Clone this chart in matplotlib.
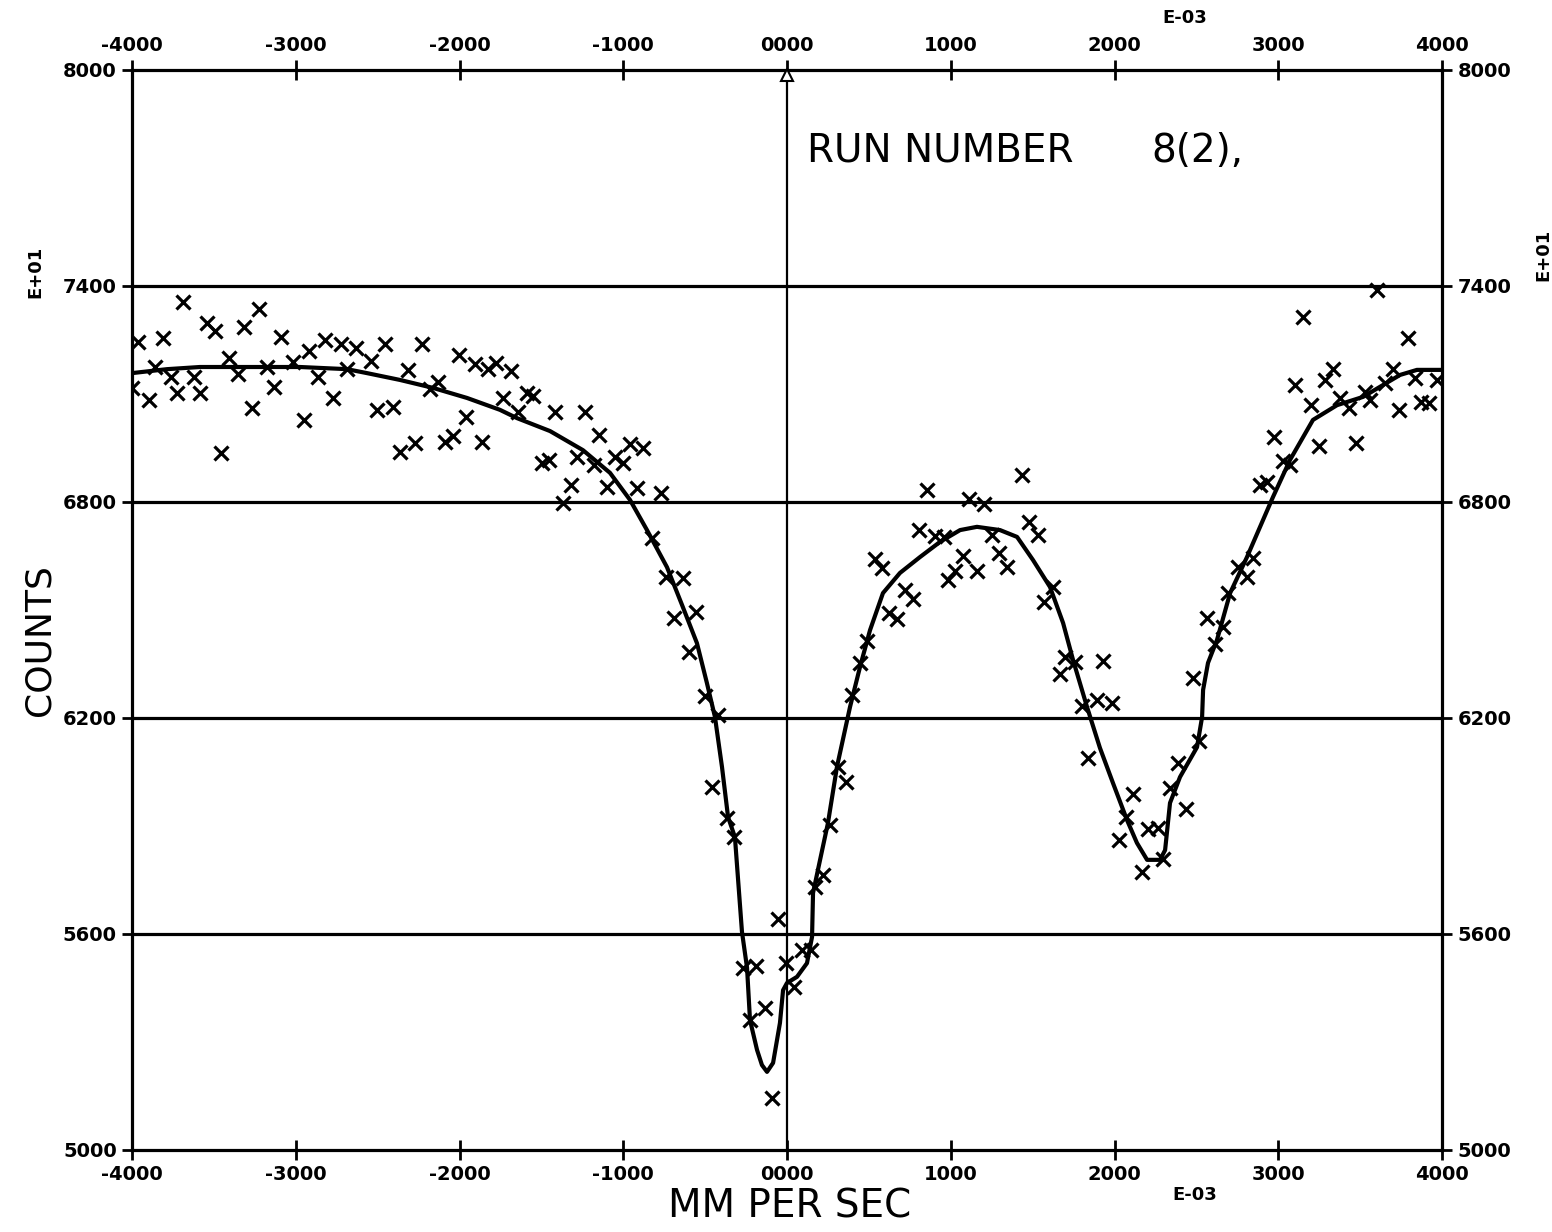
import matplotlib
matplotlib.use("Agg")
import matplotlib.pyplot as plt
import numpy as np

# ---- data (velocity in E-03 mm/s, counts in E+01) ----
vel = [-4000, -3963, -3896, -3860, -3811, -3762, -3725, -3689, -3621, -3585,
       -3542, -3493, -3456, -3408, -3353, -3316, -3267, -3224, -3176, -3133,
       -3090, -3017, -2950, -2919, -2864, -2821, -2773, -2724, -2687, -2632,
       -2540, -2504, -2455, -2406, -2363, -2314, -2272, -2229, -2180, -2131,
       -2089, -2040, -2003, -1960, -1905, -1863, -1826, -1777, -1734, -1685,
       -1643, -1588, -1551, -1496, -1453, -1417, -1368, -1319, -1282, -1234,
       -1179, -1148, -1099, -1050, -1002, -959, -916, -879, -824, -769,
       -739, -690, -635, -598, -556, -501, -458, -421, -366, -324,
       -269, -226, -189, -134, -92, -55, -6, 43, 92, 147,
       171, 220, 263, 311, 360, 397, 446, 489, 538, 580,
       623, 672, 721, 770, 806, 855, 904, 959, 983, 1026,
       1075, 1112, 1161, 1203, 1252, 1295, 1344, 1435, 1478, 1533,
       1570, 1625, 1667, 1698, 1759, 1801, 1838, 1893, 1930, 1985,
       2028, 2070, 2113, 2168, 2205, 2266, 2296, 2339, 2388, 2437,
       2479, 2516, 2565, 2614, 2663, 2693, 2754, 2809, 2846, 2889,
       2931, 2974, 3029, 3072, 3102, 3151, 3200, 3249, 3286, 3335,
       3377, 3432, 3475, 3530, 3560, 3603, 3652, 3701, 3738, 3793,
       3835, 3872, 3921, 3970]
counts = [7117, 7244, 7083, 7175, 7256, 7147, 7103, 7356, 7147, 7103,
          7297, 7275, 6936, 7200, 7156, 7286, 7061, 7336, 7175, 7119,
          7258, 7189, 7028, 7219, 7147, 7250, 7089, 7239, 7169, 7228,
          7192, 7056, 7239, 7064, 6939, 7167, 6964, 7239, 7114, 7133,
          6967, 6983, 7208, 7036, 7183, 6967, 7169, 7186, 7089, 7164,
          7050, 7103, 7094, 6908, 6917, 7050, 6797, 6847, 6925, 7050,
          6903, 6986, 6842, 6925, 6908, 6961, 6839, 6950, 6700, 6825,
          6592, 6478, 6589, 6383, 6494, 6261, 6008, 6208, 5922, 5869,
          5506, 5361, 5511, 5394, 5144, 5642, 5519, 5453, 5556, 5556,
          5731, 5764, 5903, 6064, 6022, 6264, 6353, 6414, 6642, 6617,
          6492, 6475, 6556, 6531, 6722, 6833, 6706, 6703, 6583, 6608,
          6650, 6808, 6608, 6794, 6708, 6658, 6619, 6875, 6744, 6708,
          6522, 6564, 6322, 6369, 6356, 6233, 6089, 6250, 6358, 6242,
          5861, 5925, 5989, 5772, 5892, 5894, 5808, 6006, 6075, 5947,
          6311, 6136, 6478, 6406, 6453, 6547, 6619, 6592, 6644, 6847,
          6856, 6981, 6914, 6903, 7125, 7314, 7069, 6956, 7139, 7169,
          7089, 7061, 6964, 7106, 7083, 7389, 7131, 7169, 7056, 7256,
          7144, 7078, 7075, 7139]

fit_vel = [-4000, -3786, -3585, -3218, -2974, -2687, -2565, -2363, -2162, -1954,
           -1753, -1649, -1447, -1246, -1081, -959, -855, -733, -641, -550,
           -489, -440, -397, -360, -318, -275, -244, -226, -183, -153,
           -122, -85, -43, -24, 0, 61, 122, 153, 159, 202,
           250, 305, 385, 446, 507, 586, 690, 812, 934, 1057,
           1160, 1301, 1405, 1502, 1606, 1686, 1747, 1832, 1911, 1991,
           2076, 2137, 2199, 2278, 2309, 2339, 2400, 2504, 2535, 2541,
           2571, 2626, 2706, 2809, 2968, 3072, 3212, 3359, 3518, 3640,
           3744, 3847, 3988]
fit_counts = [7158, 7169, 7175, 7175, 7175, 7169, 7158, 7139, 7117, 7089,
              7056, 7033, 6997, 6944, 6881, 6806, 6722, 6619, 6514, 6408,
              6297, 6203, 6064, 5925, 5869, 5606, 5506, 5361, 5278, 5236,
              5217, 5242, 5353, 5444, 5464, 5481, 5519, 5592, 5714, 5806,
              5908, 6064, 6231, 6342, 6444, 6547, 6603, 6647, 6689, 6722,
              6731, 6722, 6703, 6639, 6564, 6464, 6361, 6231, 6117, 6019,
              5917, 5853, 5806, 5806, 5833, 5964, 6036, 6119, 6203, 6278,
              6353, 6417, 6547, 6647, 6814, 6917, 7028, 7069, 7092, 7125,
              7153, 7167, 7167]

x_ticks = [-4000, -3000, -2000, -1000, 0, 1000, 2000, 3000, 4000]
y_ticks = [5000, 5600, 6200, 6800, 7400, 8000]
grid_levels = [5600, 6200, 6800, 7400]

def xlab(v):
    return f"-{abs(v)}" if v < 0 else f"{v:04d}"

fig = plt.figure(figsize=(15.52, 12.32), dpi=100)
ax = fig.add_axes([132/1552, 1 - 1150/1232, (1442-132)/1552, (1150-70)/1232])
ax.set_xlim(-4000, 4000)
ax.set_ylim(5000, 8000)

for lv in grid_levels:
    ax.axhline(lv, color="black", lw=2.3, zorder=1)
ax.axvline(0, color="black", lw=1.6, zorder=1)

ax.plot(fit_vel, fit_counts, color="black", lw=3.0, zorder=3)
ax.plot(vel, counts, linestyle="none", marker="x", ms=10, mew=2.3,
        color="black", zorder=4)

# small open triangle at top of zero line
ax.plot([0], [7985], marker="^", ms=8, mfc="white", mec="black", mew=1.5,
        clip_on=False, zorder=5)

for s in ax.spines.values():
    s.set_linewidth(2.3)

ax.set_xticks(x_ticks)
ax.set_xticklabels([xlab(v) for v in x_ticks])
ax.set_yticks(y_ticks)
ax.set_yticklabels([str(v) for v in y_ticks])
ax.tick_params(axis="both", which="major", direction="inout", length=14, width=2,
               top=True, right=True, labeltop=True, labelright=True,
               labelsize=14, pad=4)
for lab in ax.get_xticklabels() + ax.get_yticklabels():
    lab.set_fontweight("bold")
for lab in ax.xaxis.get_ticklabels(which="both"):
    lab.set_fontweight("bold")
for t in ax.xaxis.get_major_ticks():
    t.label2.set_fontweight("bold")
for t in ax.yaxis.get_major_ticks():
    t.label2.set_fontweight("bold")

ax.text(0.515, 0.925, "RUN NUMBER", transform=ax.transAxes, fontsize=28,
        ha="left", va="center")
ax.text(0.778, 0.925, "8(2),", transform=ax.transAxes, fontsize=28,
        ha="left", va="center")

fig.text(40/1552, 1 - 640/1232, "COUNTS", rotation=90, fontsize=26,
         ha="center", va="center")
fig.text(790/1552, 1 - 1207/1232, "MM PER SEC", fontsize=28,
         ha="center", va="center")
fig.text(1195/1552, 1 - 1195/1232, "E-03", fontsize=13, fontweight="bold",
         ha="center", va="center")
fig.text(1185/1552, 1 - 18/1232, "E-03", fontsize=13, fontweight="bold",
         ha="center", va="center")
fig.text(35/1552, 1 - 272/1232, "E+01", rotation=90, fontsize=13,
         fontweight="bold", ha="center", va="center")
fig.text(1543/1552, 1 - 255/1232, "E+01", rotation=90, fontsize=13,
         fontweight="bold", ha="center", va="center")

fig.savefig("out.png", dpi=100, facecolor="white")
